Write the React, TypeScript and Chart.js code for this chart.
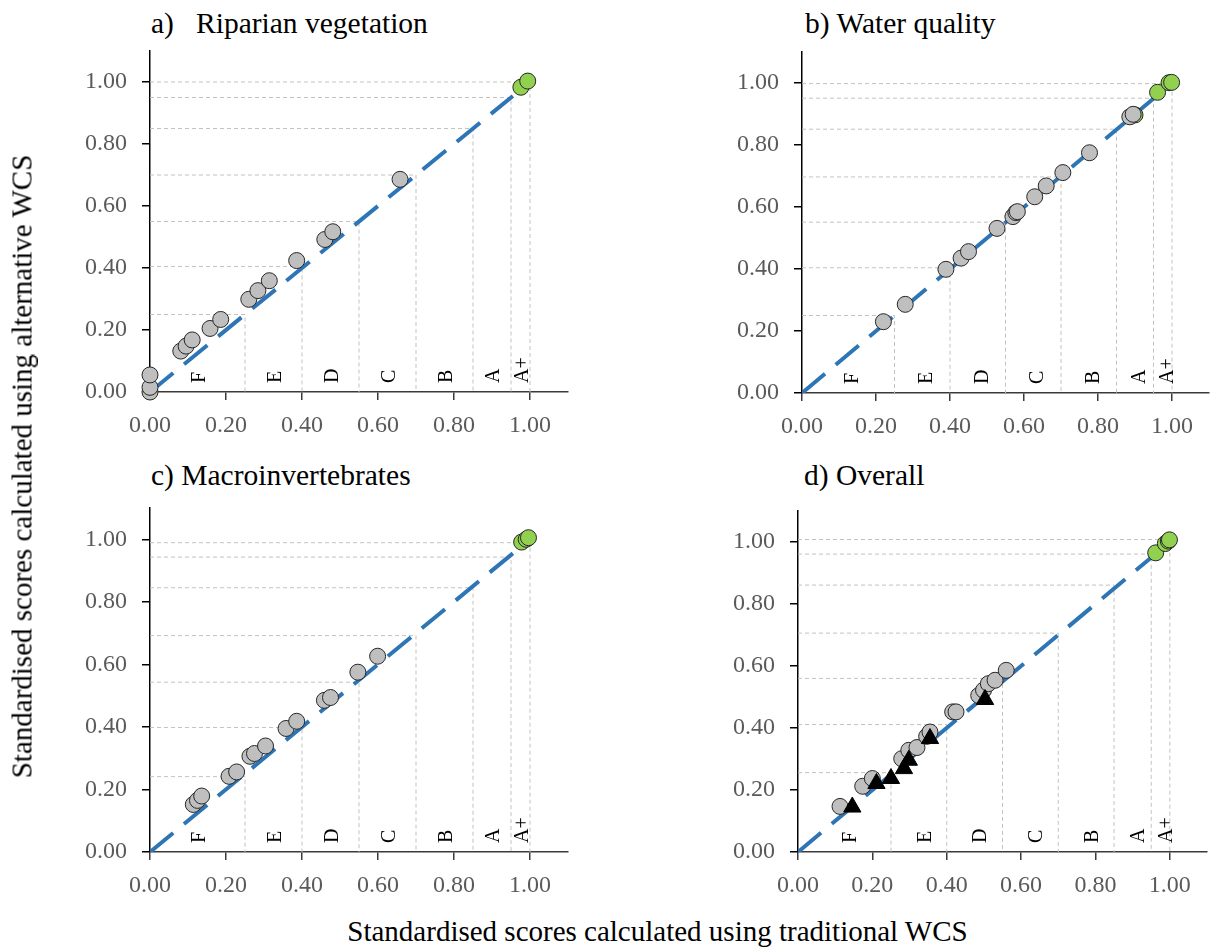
import React, { useEffect, useRef } from 'react';
import { Chart, registerables } from 'chart.js';
Chart.register(...registerables);

const SERIF = '"Liberation Serif", "Times New Roman", Times, serif';

// Grade classes
const gradeNames = ['F', 'E', 'D', 'C', 'B', 'A', 'A+'];
const gradeMid = [0.125, 0.325, 0.475, 0.625, 0.775, 0.9, 0.975];
const tradThresholds = [0.25, 0.40, 0.55, 0.70, 0.85, 0.95, 1.00];
const xTicks = [0, 0.2, 0.4, 0.6, 0.8, 1.0];
const diagonalEnds = [0, 0.955];

// a) Riparian vegetation
const ripAltThresholds = [0.25, 0.405, 0.55, 0.70, 0.85, 0.95, 1.00];
const ripGreyX = [0.0, 0.0, 0.0, 0.081, 0.095, 0.111, 0.158, 0.186, 0.26, 0.284, 0.314, 0.386, 0.46, 0.481, 0.658];
const ripGreyY = [0.0, 0.015, 0.055, 0.132, 0.148, 0.168, 0.205, 0.234, 0.299, 0.327, 0.359, 0.424, 0.492, 0.517, 0.686];
const ripGreenX = [0.976, 0.994];
const ripGreenY = [0.983, 1.003];

// b) Water quality
const wqAltThresholds = [0.25, 0.404, 0.551, 0.697, 0.851, 0.951, 0.998];
const wqGreyX = [0.22, 0.279, 0.389, 0.43, 0.45, 0.527, 0.57, 0.578, 0.582, 0.629, 0.66, 0.705, 0.777, 0.886, 0.895];
const wqGreyY = [0.23, 0.286, 0.399, 0.435, 0.456, 0.531, 0.569, 0.582, 0.585, 0.633, 0.668, 0.711, 0.775, 0.891, 0.899];
const wqGreenX = [0.9, 0.961, 0.992, 0.999];
const wqGreenY = [0.897, 0.970, 1.001, 1.002];

// c) Macroinvertebrates
const macAltThresholds = [0.241, 0.398, 0.543, 0.692, 0.845, 0.943, 0.989];
const macGreyX = [0.114, 0.125, 0.136, 0.208, 0.228, 0.263, 0.275, 0.304, 0.358, 0.386, 0.459, 0.475, 0.547, 0.599];
const macGreyY = [0.152, 0.165, 0.179, 0.242, 0.256, 0.306, 0.315, 0.339, 0.395, 0.418, 0.485, 0.494, 0.575, 0.626];
const macGreenX = [0.978, 0.99, 0.996];
const macGreenY = [0.991, 1.0, 1.005];

// d) Overall
const allAltThresholds = [0.256, 0.411, 0.56, 0.706, 0.861, 0.961, 1.008];
const allGreyX = [0.113, 0.174, 0.2, 0.279, 0.298, 0.32, 0.346, 0.355, 0.416, 0.425, 0.486, 0.499, 0.512, 0.53, 0.56];
const allGreyY = [0.147, 0.212, 0.237, 0.301, 0.328, 0.337, 0.373, 0.387, 0.452, 0.452, 0.505, 0.522, 0.543, 0.554, 0.586];
const allTriX = [0.146, 0.211, 0.25, 0.285, 0.298, 0.355, 0.503];
const allTriY = [0.145, 0.221, 0.237, 0.269, 0.296, 0.366, 0.492];
const allGreenX = [0.962, 0.988, 0.996, 0.999];
const allGreenY = [0.965, 0.995, 1.003, 1.007];

type Spec = {
  title: string;
  titleLeft: number;
  titleTop: number;
  L: number; T: number; R: number; B: number;
  padRight: number;
  altThr: number[];
  greyX: number[]; greyY: number[];
  greenX: number[]; greenY: number[];
  triX?: number[]; triY?: number[];
  labelShift: number;
};

const panels: Spec[] = [
  { title: 'a)   Riparian vegetation', titleLeft: 151, titleTop: 9, L: 150, T: 51, R: 568, B: 392, padRight: 32,
    altThr: ripAltThresholds, greyX: ripGreyX, greyY: ripGreyY, greenX: ripGreenX, greenY: ripGreenY, labelShift: 2 },
  { title: 'b) Water quality', titleLeft: 805, titleTop: 9, L: 802, T: 52, R: 1218, B: 393, padRight: 0,
    altThr: wqAltThresholds, greyX: wqGreyX, greyY: wqGreyY, greenX: wqGreenX, greenY: wqGreenY, labelShift: 4.5 },
  { title: 'c) Macroinvertebrates', titleLeft: 151, titleTop: 461, L: 150, T: 508, R: 568, B: 852, padRight: 32,
    altThr: macAltThresholds, greyX: macGreyX, greyY: macGreyY, greenX: macGreenX, greenY: macGreenY, labelShift: 2 },
  { title: 'd) Overall', titleLeft: 804, titleTop: 461, L: 798, T: 511, R: 1218, B: 852, padRight: 0,
    altThr: allAltThresholds, greyX: allGreyX, greyY: allGreyY, greenX: allGreenX, greenY: allGreenY,
    triX: allTriX, triY: allTriY, labelShift: 6.5 },
];

const zip = (xs: number[], ys: number[]) => xs.map((x, i) => ({ x, y: ys[i] }));

const gradePlugin = {
  id: 'grades',
  afterDatasetsDraw(chart: any, _args: any, opts: any) {
    const { ctx } = chart;
    const xs = chart.scales.x;
    const ys = chart.scales.y;
    ctx.save();
    ctx.fillStyle = '#000';
    ctx.font = `20px ${SERIF}`;
    ctx.textAlign = 'left';
    ctx.textBaseline = 'middle';
    gradeNames.forEach((g, i) => {
      const px = xs.getPixelForValue(gradeMid[i]) + (opts.shift || 0);
      const py = ys.getPixelForValue(0) - 9;
      ctx.save();
      ctx.translate(px, py);
      ctx.rotate(-Math.PI / 2);
      ctx.fillText(g, 0, 0);
      ctx.restore();
    });
    ctx.restore();
  },
};

function buildConfig(s: Spec): any {
  const thresholdSets = tradThresholds.map((tx, i) => ({
    data: [{ x: 0, y: s.altThr[i] }, { x: tx, y: s.altThr[i] }, { x: tx, y: 0 }],
    showLine: true,
    borderColor: '#c2c2c2',
    borderWidth: 1,
    borderDash: [4, 3],
    pointRadius: 0,
    order: 10,
  }));
  const datasets: any[] = [
    ...thresholdSets,
    {
      data: diagonalEnds.map((v) => ({ x: v, y: v })),
      showLine: true,
      borderColor: '#2e75b6',
      borderWidth: 4,
      borderDash: [30, 14],
      pointRadius: 0,
      order: 5,
    },
    {
      data: zip(s.greenX, s.greenY),
      pointRadius: 8,
      backgroundColor: '#92d050',
      borderColor: '#262626',
      borderWidth: 1,
      order: 3,
      clip: false,
    },
    {
      data: zip(s.greyX, s.greyY),
      pointRadius: 8,
      backgroundColor: '#bfbfbf',
      borderColor: '#262626',
      borderWidth: 1,
      order: 2,
      clip: false,
    },
  ];
  if (s.triX && s.triY) {
    datasets.push({
      data: zip(s.triX, s.triY),
      pointStyle: 'triangle',
      pointRadius: 10,
      backgroundColor: '#000',
      borderColor: '#000',
      borderWidth: 1,
      order: 1,
      clip: false,
    });
  }
  const tickFont = { family: SERIF, size: 24 };
  return {
    type: 'scatter',
    data: { datasets },
    options: {
      animation: false,
      responsive: false,
      events: [],
      layout: { padding: { left: 0, right: s.padRight, top: 12, bottom: 0 } },
      plugins: { legend: { display: false }, tooltip: { enabled: false }, title: { display: false }, grades: { shift: s.labelShift } },
      scales: {
        x: {
          type: 'linear',
          min: 0,
          max: 1.1,
          afterFit: (sc: any) => { sc.height = 60; sc.paddingLeft = 0; sc.paddingRight = 0; sc.paddingTop = 0; sc.paddingBottom = 0; },
          afterBuildTicks: (sc: any) => { sc.ticks = xTicks.map((v) => ({ value: v })); },
          ticks: {
            callback: (v: any) => Number(v).toFixed(2),
            color: '#5a5a5a',
            font: tickFont,
            padding: 11,
            maxRotation: 0,
            autoSkip: false,
          },
          grid: { drawOnChartArea: false, drawTicks: true, tickLength: 8, color: '#3a3a3a', lineWidth: 1.5 },
          border: { display: true, color: '#3a3a3a', width: 1.5 },
        },
        y: {
          type: 'linear',
          min: 0,
          max: 1.1,
          afterFit: (sc: any) => { sc.width = 150; sc.paddingLeft = 0; sc.paddingRight = 0; sc.paddingTop = 0; sc.paddingBottom = 0; },
          afterBuildTicks: (sc: any) => { sc.ticks = xTicks.map((v) => ({ value: v })); },
          ticks: {
            callback: (v: any) => Number(v).toFixed(2),
            color: '#5a5a5a',
            font: tickFont,
            padding: 15,
            autoSkip: false,
          },
          grid: { drawOnChartArea: false, drawTicks: true, tickLength: 8, color: '#000', lineWidth: 1.5 },
          border: { display: true, color: '#000', width: 1.5 },
        },
      },
    },
    plugins: [gradePlugin],
  };
}

function Panel({ spec }: { spec: Spec }) {
  const ref = useRef<HTMLCanvasElement>(null);
  useEffect(() => {
    const chart = new Chart(ref.current as HTMLCanvasElement, buildConfig(spec));
    return () => chart.destroy();
  }, [spec]);
  const width = 150 + (spec.R - spec.L) + spec.padRight;
  const height = 12 + (spec.B - spec.T) + 60;
  return (
    <>
      <div
        style={{
          position: 'absolute', left: spec.titleLeft, top: spec.titleTop, fontFamily: SERIF, fontSize: 29.5,
          lineHeight: '29px', whiteSpace: 'pre', color: '#000',
        }}
      >
        {spec.title}
      </div>
      <canvas
        ref={ref}
        width={width}
        height={height}
        style={{ position: 'absolute', left: spec.L - 150, top: spec.T - 12, width, height }}
      />
    </>
  );
}

export default function App() {
  return (
    <div style={{ position: 'absolute', left: 0, top: 0, width: 1217, height: 947, overflow: 'hidden', background: '#fff' }}>
      {panels.map((p) => (
        <Panel key={p.title} spec={p} />
      ))}
      <div
        style={{
          position: 'absolute', left: 22 - 400, top: 466 - 14.5, width: 800, height: 29, lineHeight: '29px',
          textAlign: 'center', transform: 'rotate(-90deg)', fontSize: 29, fontFamily: SERIF, whiteSpace: 'nowrap', color: '#000',
        }}
      >
        Standardised scores calculated using alternative WCS
      </div>
      <div
        style={{
          position: 'absolute', left: 657.5 - 400, top: 917.4, width: 800, height: 29, lineHeight: '29px',
          textAlign: 'center', fontSize: 29, fontFamily: SERIF, whiteSpace: 'nowrap', color: '#000',
        }}
      >
        Standardised scores calculated using traditional WCS
      </div>
    </div>
  );
}
